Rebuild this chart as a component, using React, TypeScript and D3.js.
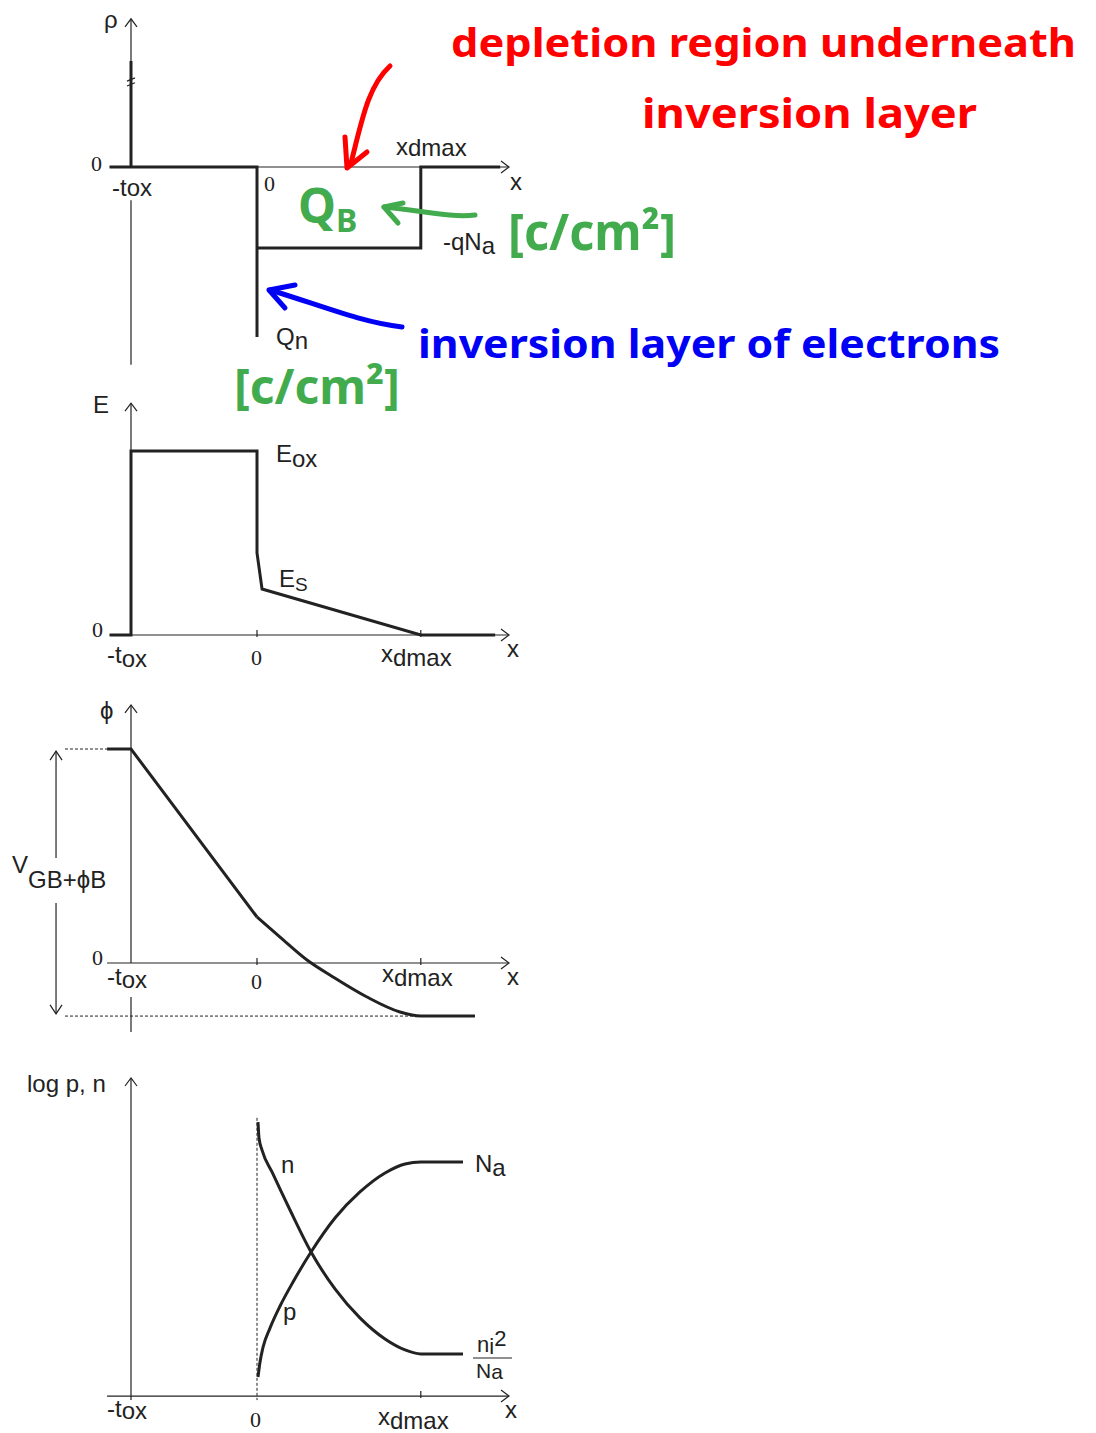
import React from 'react';
import * as d3 from 'd3';

// x is measured in units of tox: -tox = -1, interface = 0
const TOX = -1;
const XDMAX = 1.3;

// charge density rho (units of qNa)
const rhoPoints: [number, number][] = [
  [-1.17, 0], [-1, 0], [-1, 1.31], [-1, 0], [0, 0], [0, -2.1], [0, -1],
  [XDMAX, -1], [XDMAX, 0], [1.93, 0],
];

// electric field (units of Eox)
const ePoints: [number, number][] = [
  [-1.17, 0], [-1, 0], [-1, 1], [0, 1], [0, 0.446], [0.04, 0.25], [XDMAX, 0], [1.89, 0],
];

// potential (units of phi(-tox))
const phiOxide: [number, number][] = [[-1.19, 1], [-1, 1], [0, 0.215]];
const phiSilicon: [number, number][] = [
  [0, 0.215], [0.183, 0.121], [0.397, 0.014], [0.603, -0.065], [0.873, -0.159],
  [1.135, -0.229], [XDMAX, -0.248], [1.73, -0.248],
];
const PHI_BOTTOM = -0.248;

// log carrier concentration (0 = ni^2/Na, 1 = Na)
const nPoints: [number, number][] = [
  [0.008, 1.208], [0.016, 1.125], [0.04, 1.062], [0.119, 0.948], [0.262, 0.75],
  [0.429, 0.531], [0.619, 0.339], [0.817, 0.188], [1.016, 0.078], [1.175, 0.021],
  [XDMAX, 0], [1.635, 0],
];
const pPoints: [number, number][] = [
  [0.008, -0.12], [0.024, -0.042], [0.048, 0.036], [0.103, 0.135], [0.183, 0.25],
  [0.286, 0.375], [0.429, 0.531], [0.619, 0.708], [0.817, 0.844], [1.016, 0.943],
  [1.175, 0.99], [XDMAX, 1], [1.635, 1],
];

const xTicks = [0, XDMAX];

const INK = '#222';
const SANS = 'Liberation Sans, Arial, sans-serif';
const SERIF = 'Liberation Serif, Times New Roman, serif';
const HAND = 'Noto Sans, DejaVu Sans, sans-serif';
const RED = '#ff0000';
const BLUE = '#0000f5';
const GREEN = '#41ab4e';

function XAxis({ y, x0, x1, ticks }: { y: number; x0: number; x1: number; ticks: number[] }) {
  return (
    <g stroke={INK} fill="none" strokeWidth={1.2}>
      <line x1={x0} x2={x1} y1={y} y2={y} />
      <path d={`M${x1 - 8},${y - 6} L${x1},${y} L${x1 - 8},${y + 6}`} />
      {ticks.map((t, i) => (
        <line key={i} x1={t} x2={t} y1={y - 5} y2={y + 2} />
      ))}
    </g>
  );
}

function YAxis({ x, top, segs }: { x: number; top: number; segs: [number, number][] }) {
  return (
    <g stroke={INK} fill="none" strokeWidth={1.2}>
      {segs.map((s, i) => (
        <line key={i} x1={x} x2={x} y1={s[0]} y2={s[1]} />
      ))}
      <path d={`M${x - 6},${top + 8} L${x},${top} L${x + 6},${top + 8}`} />
    </g>
  );
}

export default function App() {
  const x = d3.scaleLinear().domain([TOX, 0]).range([131, 257]);
  const yRho = d3.scaleLinear().domain([0, -1]).range([167, 248]);
  const yE = d3.scaleLinear().domain([0, 1]).range([635, 451]);
  const yPhi = d3.scaleLinear().domain([0, 1]).range([963, 749]);
  const yLog = d3.scaleLinear().domain([0, 1]).range([1354, 1162]);

  const straight = (ys: d3.ScaleLinear<number, number>) =>
    d3.line<[number, number]>().x(d => x(d[0])).y(d => ys(d[1]));
  const smooth = (ys: d3.ScaleLinear<number, number>) =>
    d3.line<[number, number]>().x(d => x(d[0])).y(d => ys(d[1])).curve(d3.curveMonotoneX);

  const tickPx = xTicks.map(t => x(t));
  const xEnd = x(2.0);
  const vArrowX = x(-1.595);

  const lbl = { fontFamily: SANS, fontSize: 24, fill: INK } as const;
  const zero = { fontFamily: SERIF, fontSize: 22, fill: INK } as const;
  const thick = { fill: 'none', stroke: INK, strokeWidth: 3, strokeLinejoin: 'miter' as const };

  return (
    <svg width={1096} height={1433} style={{ position: 'absolute', left: 0, top: 0, background: '#fff' }}>
      <rect width={1096} height={1433} fill="#fff" />

      {/* ---------- rho ---------- */}
      <YAxis x={x(TOX)} top={yRho(1.83)} segs={[[yRho(1.83), yRho(0)], [yRho(-0.41), yRho(-2.44)]]} />
      <XAxis y={yRho(0)} x0={x(-1.17)} x1={xEnd} ticks={[]} />
      <path d={straight(yRho)(rhoPoints) ?? ''} {...thick} />
      <g stroke={INK} strokeWidth={1.2}>
        <line x1={x(TOX) - 4} x2={x(TOX) + 4} y1={yRho(1.06)} y2={yRho(1.1)} />
        <line x1={x(TOX) - 4} x2={x(TOX) + 4} y1={yRho(1.0)} y2={yRho(1.04)} />
      </g>
      <text x={104} y={28} {...lbl}>ρ</text>
      <text x={91} y={171} {...zero}>0</text>
      <text x={112} y={196} {...lbl}>-tox</text>
      <text x={264} y={191} {...zero}>0</text>
      <text x={396} y={155} {...lbl}>x<tspan dy={1}>dmax</tspan></text>
      <text x={510} y={190} {...lbl}>x</text>
      <text x={443} y={250} {...lbl}>-qN<tspan dy={4}>a</tspan></text>
      <text x={276} y={345} {...lbl}>Q<tspan dy={4}>n</tspan></text>

      {/* ---------- E ---------- */}
      <YAxis x={x(TOX)} top={yE(1.26)} segs={[[yE(1.26), yE(0)]]} />
      <XAxis y={yE(0)} x0={x(-1.17)} x1={xEnd} ticks={tickPx} />
      <path d={straight(yE)(ePoints) ?? ''} {...thick} />
      <text x={93} y={413} {...lbl}>E</text>
      <text x={276} y={462} {...lbl}>E<tspan dy={5}>ox</tspan></text>
      <text x={279} y={587} {...lbl}>E<tspan dy={4} fontSize={19}>S</tspan></text>
      <text x={92} y={637} {...zero}>0</text>
      <text x={107} y={663} {...lbl}>-t<tspan dy={4}>ox</tspan></text>
      <text x={251} y={665} {...zero}>0</text>
      <text x={381} y={662} {...lbl}>x<tspan dy={4}>dmax</tspan></text>
      <text x={507} y={657} {...lbl}>x</text>

      {/* ---------- phi ---------- */}
      <YAxis x={x(TOX)} top={yPhi(1.206)} segs={[[yPhi(1.206), yPhi(0)], [yPhi(-0.159), yPhi(-0.322)]]} />
      <XAxis y={yPhi(0)} x0={x(-1.19)} x1={xEnd} ticks={tickPx} />
      <g stroke={INK} strokeWidth={1} strokeDasharray="3,2">
        <line x1={x(-1.524)} x2={x(-1.19)} y1={yPhi(1)} y2={yPhi(1)} />
        <line x1={x(-1.524)} x2={x(1.73)} y1={yPhi(PHI_BOTTOM)} y2={yPhi(PHI_BOTTOM)} />
      </g>
      <path d={straight(yPhi)(phiOxide) ?? ''} {...thick} />
      <path d={smooth(yPhi)(phiSilicon) ?? ''} {...thick} />
      <g stroke={INK} fill="none" strokeWidth={1.2}>
        <line x1={vArrowX} x2={vArrowX} y1={yPhi(0.99)} y2={858} />
        <line x1={vArrowX} x2={vArrowX} y1={903} y2={yPhi(PHI_BOTTOM + 0.01)} />
        <path d={`M${vArrowX - 6},${yPhi(0.99) + 9} L${vArrowX},${yPhi(0.99)} L${vArrowX + 6},${yPhi(0.99) + 9}`} />
        <path d={`M${vArrowX - 6},${yPhi(PHI_BOTTOM + 0.01) - 9} L${vArrowX},${yPhi(PHI_BOTTOM + 0.01)} L${vArrowX + 6},${yPhi(PHI_BOTTOM + 0.01) - 9}`} />
      </g>
      <text x={100} y={719} {...lbl}>ϕ</text>
      <text x={12} y={873} {...lbl} fontSize={24}>V<tspan dy={15}>GB+ϕB</tspan></text>
      <text x={92} y={965} {...zero}>0</text>
      <text x={107} y={985} {...lbl}>-t<tspan dy={3}>ox</tspan></text>
      <text x={251} y={989} {...zero}>0</text>
      <text x={382} y={982} {...lbl}>x<tspan dy={4}>dmax</tspan></text>
      <text x={507} y={985} {...lbl}>x</text>

      {/* ---------- log p, n ---------- */}
      <YAxis x={x(TOX)} top={yLog(1.4375)} segs={[[yLog(1.4375), yLog(-0.24)]]} />
      <XAxis y={yLog(-0.219)} x0={x(-1.19)} x1={xEnd} ticks={[x(XDMAX)]} />
      <line x1={x(0)} x2={x(0)} y1={yLog(1.23)} y2={yLog(-0.24)} stroke={INK} strokeWidth={1} strokeDasharray="3,2" />
      <path d={smooth(yLog)(nPoints) ?? ''} {...thick} />
      <path d={smooth(yLog)(pPoints) ?? ''} {...thick} />
      <text x={27} y={1092} {...lbl}>log p, n</text>
      <text x={281} y={1173} {...lbl}>n</text>
      <text x={283} y={1320} {...lbl}>p</text>
      <text x={475} y={1172} {...lbl}>N<tspan dy={4}>a</tspan></text>
      <text x={477} y={1352} {...lbl} fontSize={22}>n<tspan dy={2}>i</tspan><tspan dy={-8}>2</tspan></text>
      <line x1={473} x2={512} y1={1358} y2={1358} stroke={INK} strokeWidth={1.2} />
      <text x={476} y={1378} {...lbl} fontSize={21}>N<tspan dy={1}>a</tspan></text>
      <text x={107} y={1417} {...lbl}>-t<tspan dy={2}>ox</tspan></text>
      <text x={250} y={1427} {...zero}>0</text>
      <text x={378} y={1425} {...lbl}>x<tspan dy={4}>dmax</tspan></text>
      <text x={505} y={1418} {...lbl}>x</text>

      {/* ---------- handwritten annotations ---------- */}
      <g fontFamily={HAND} fontWeight={700}>
        <text x={451} y={57} fill={RED} fontSize={40} textLength={625} lengthAdjust="spacingAndGlyphs">depletion region underneath</text>
        <text x={642} y={128} fill={RED} fontSize={42} textLength={335} lengthAdjust="spacingAndGlyphs">inversion layer</text>
        <text x={418} y={358} fill={BLUE} fontSize={40} textLength={582} lengthAdjust="spacingAndGlyphs">inversion layer of electrons</text>
        <text x={298} y={223} fill={GREEN} fontSize={48}>Q<tspan fontSize={32} dy={9}>B</tspan></text>
        <text x={508} y={250} fill={GREEN} fontSize={50} textLength={168} lengthAdjust="spacingAndGlyphs">[c/cm²]</text>
        <text x={234} y={404} fill={GREEN} fontSize={48} textLength={166} lengthAdjust="spacingAndGlyphs">[c/cm²]</text>
      </g>
      <g fill="none" strokeWidth={5} strokeLinecap="round" strokeLinejoin="round">
        <path d="M390,66 C368,86 362,120 351,163" stroke={RED} />
        <path d="M345,137 L347,168 L367,152" stroke={RED} />
        <path d="M475,215 C450,218 420,210 384,207" stroke={GREEN} />
        <path d="M403,203 L384,207 L398,223" stroke={GREEN} />
        <path d="M402,327 C360,322 320,305 270,290" stroke={BLUE} />
        <path d="M295,285 L269,290 L285,308" stroke={BLUE} />
      </g>
    </svg>
  );
}
